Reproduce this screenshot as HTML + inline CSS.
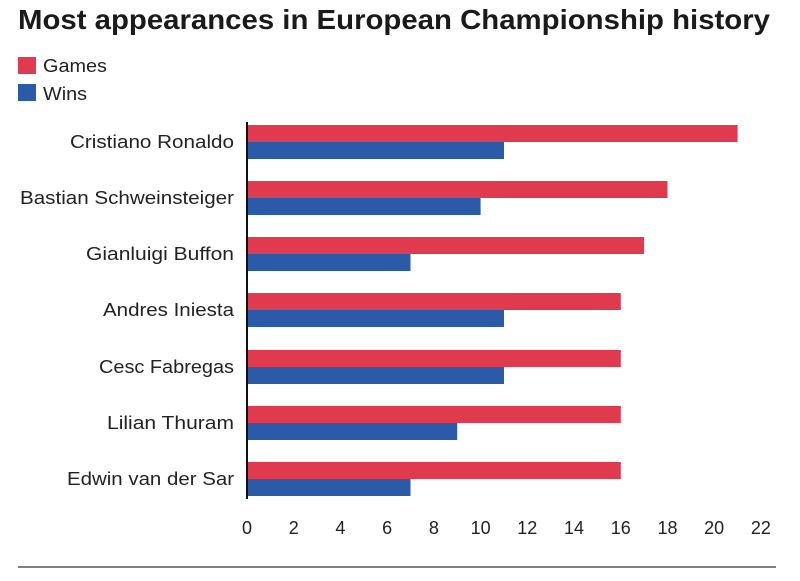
<!DOCTYPE html>
<html><head><style>
body{margin:0;background:#fff;width:800px;height:576px;overflow:hidden;font-family:"Liberation Sans",sans-serif;}
</style></head><body>
<svg width="800" height="576" xmlns="http://www.w3.org/2000/svg" font-family="Liberation Sans, sans-serif">
<text x="18" y="29" font-size="28" font-weight="bold" fill="#1a1a1a" textLength="752" lengthAdjust="spacingAndGlyphs">Most appearances in European Championship history</text>
<rect x="18" y="57" width="18" height="17" fill="#e03a4e"/>
<text x="43" y="72" font-size="18" fill="#222" textLength="64" lengthAdjust="spacingAndGlyphs">Games</text>
<rect x="18" y="84" width="18" height="17" fill="#2a5aa8"/>
<text x="43" y="100" font-size="18" fill="#222" textLength="44" lengthAdjust="spacingAndGlyphs">Wins</text>
<g font-size="18" fill="#222" text-anchor="end" lengthAdjust="spacingAndGlyphs">
<text x="234" y="148" textLength="164" lengthAdjust="spacingAndGlyphs">Cristiano Ronaldo</text>
<text x="234" y="204" textLength="214" lengthAdjust="spacingAndGlyphs">Bastian Schweinsteiger</text>
<text x="234" y="260" textLength="148" lengthAdjust="spacingAndGlyphs">Gianluigi Buffon</text>
<text x="234" y="316" textLength="131" lengthAdjust="spacingAndGlyphs">Andres Iniesta</text>
<text x="234" y="373" textLength="135" lengthAdjust="spacingAndGlyphs">Cesc Fabregas</text>
<text x="234" y="429" textLength="127" lengthAdjust="spacingAndGlyphs">Lilian Thuram</text>
<text x="234" y="485" textLength="167" lengthAdjust="spacingAndGlyphs">Edwin van der Sar</text>
</g>
<g>
<rect x="247" y="125" width="490.6" height="17" fill="#e03a4e"/><rect x="247" y="142" width="257" height="17" fill="#2a5aa8"/>
<rect x="247" y="181" width="420.5" height="17" fill="#e03a4e"/><rect x="247" y="198" width="233.6" height="17" fill="#2a5aa8"/>
<rect x="247" y="237" width="397.1" height="17" fill="#e03a4e"/><rect x="247" y="254" width="163.5" height="17" fill="#2a5aa8"/>
<rect x="247" y="293" width="373.8" height="17" fill="#e03a4e"/><rect x="247" y="310" width="257" height="17" fill="#2a5aa8"/>
<rect x="247" y="350" width="373.8" height="17" fill="#e03a4e"/><rect x="247" y="367" width="257" height="17" fill="#2a5aa8"/>
<rect x="247" y="406" width="373.8" height="17" fill="#e03a4e"/><rect x="247" y="423" width="210.2" height="17" fill="#2a5aa8"/>
<rect x="247" y="462" width="373.8" height="17" fill="#e03a4e"/><rect x="247" y="479" width="163.5" height="17" fill="#2a5aa8"/>
</g>
<line x1="247" y1="122" x2="247" y2="499" stroke="#111" stroke-width="2"/>
<g font-size="18" fill="#222" text-anchor="middle">
<text x="247" y="534">0</text><text x="293.7" y="534">2</text><text x="340.4" y="534">4</text><text x="387.1" y="534">6</text><text x="433.9" y="534">8</text><text x="480.6" y="534">10</text><text x="527.3" y="534">12</text><text x="574" y="534">14</text><text x="620.8" y="534">16</text><text x="667.5" y="534">18</text><text x="714.2" y="534">20</text><text x="760.9" y="534">22</text>
</g>
<line x1="18" y1="567" x2="776" y2="567" stroke="#555" stroke-width="1.5"/>
</svg>
</body></html>
